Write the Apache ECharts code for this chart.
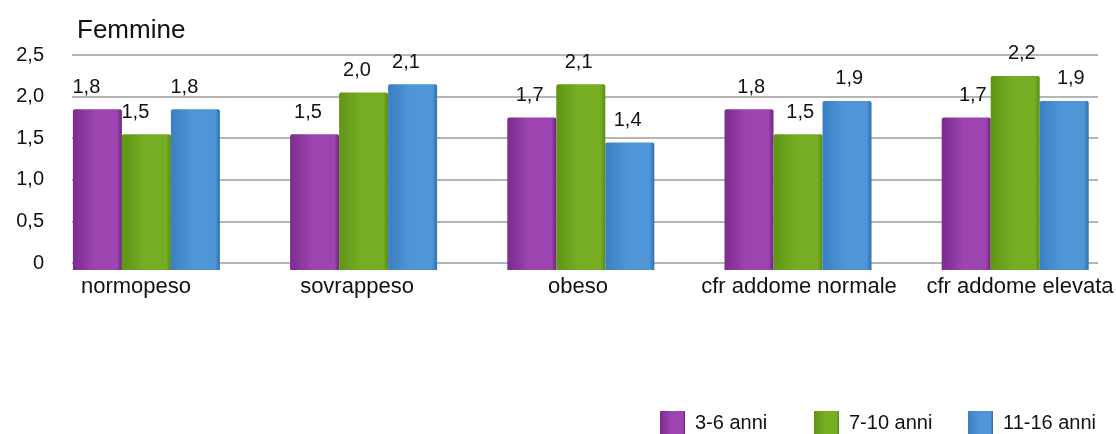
<!DOCTYPE html>
<html>
<head>
<meta charset="utf-8">
<style>
  html, body { margin: 0; padding: 0; background: #ffffff; }
  #chart { width: 1116px; height: 434px; }
</style>
<script src="https://cdn.jsdelivr.net/npm/echarts@6/dist/echarts.min.js"></script>
</head>
<body>
<div id="chart"></div>
<script>
// Categories and series values (Femmine)
const categories = ['normopeso', 'sovrappeso', 'obeso', 'cfr addome normale', 'cfr addome elevata'];
const seriesNames = ['3-6 anni', '7-10 anni', '11-16 anni'];
const anni3_6 = [1.8, 1.5, 1.7, 1.8, 1.7];
const anni7_10 = [1.5, 2.0, 2.1, 1.5, 2.2];
const anni11_16 = [1.8, 2.1, 1.4, 1.9, 1.9];

const FONT = '"Liberation Sans", Arial, sans-serif';
const fmt = v => (v === 0 ? '0' : v.toFixed(1).replace('.', ','));

function barGradient(edge, mid, side) {
  return new echarts.graphic.LinearGradient(0, 0, 1, 0, [
    { offset: 0, color: edge },
    { offset: 0.45, color: mid },
    { offset: 0.9, color: mid },
    { offset: 1, color: side }
  ]);
}

const styles = [
  { fill: barGradient('#7b2b8d', '#9c45b0', '#6f2380'), legend: '#82308f' },
  { fill: barGradient('#5f9416', '#76ad22', '#5a8c12'), legend: '#6aa01c' },
  { fill: barGradient('#3b7fc2', '#4f96d6', '#2f6fae'), legend: new echarts.graphic.LinearGradient(0, 0, 0, 1, [
      { offset: 0, color: '#2a62a8' }, { offset: 1, color: '#4d92d0' }]) }
];
const values = [anni3_6, anni7_10, anni11_16];
const legendLeft = [660, 814, 968];

// The bars sit in a perspective box: their base is drawn slightly below the
// zero gridline and their tops slightly above the value line.
const BAR_BASE = -0.132;
const BAR_MAX = 2.452;

// Value labels drift outward from the centre of the plot (perspective)
const labelShift = i => -11 + 4.4 * i;

const chart = echarts.init(document.getElementById('chart'), null, { renderer: 'canvas' });

chart.setOption({
  animation: false,
  backgroundColor: '#ffffff',
  title: {
    text: 'Femmine',
    left: 72,
    top: 13,
    textStyle: { fontFamily: FONT, fontSize: 26, fontWeight: 'normal', color: '#111111' }
  },
  legend: seriesNames.map((name, i) => ({
    data: [name],
    left: legendLeft[i],
    top: 411,
    padding: 0,
    itemWidth: 25,
    itemHeight: 24,
    itemGap: 0,
    icon: 'rect',
    textStyle: { fontFamily: FONT, fontSize: 20, color: '#111111', padding: [0, 0, 0, 5] }
  })),
  grid: [
    // gridlines and value axis
    { left: 72, right: 18, top: 55, bottom: 171, outerBoundsMode: 'none' },
    // bar area
    { left: 37.8, width: 1086, top: 55, bottom: 164, outerBoundsMode: 'none' },
    // category labels (spread a little wider than the bars)
    { left: 25.5, width: 1105, top: 55, bottom: 164, outerBoundsMode: 'none' }
  ],
  xAxis: [
    { gridIndex: 0, type: 'category', data: [''], show: false },
    { gridIndex: 1, type: 'category', data: categories, show: false },
    {
      gridIndex: 2, type: 'category', data: categories,
      axisLine: { show: false }, axisTick: { show: false }, splitLine: { show: false },
      axisLabel: { fontFamily: FONT, fontSize: 22, color: '#111111', margin: 6, interval: 0 }
    }
  ],
  yAxis: [
    {
      gridIndex: 0, type: 'value', min: 0, max: 2.5, interval: 0.5,
      axisLine: { show: false }, axisTick: { show: false },
      axisLabel: { fontFamily: FONT, fontSize: 20, color: '#111111', margin: 28, formatter: fmt },
      splitLine: { lineStyle: { color: '#9d9d9d', width: 1.6 } }
    },
    {
      gridIndex: 1, type: 'value', min: BAR_BASE, max: BAR_MAX, startValue: BAR_BASE,
      show: false, splitLine: { show: false }
    },
    {
      gridIndex: 2, type: 'value', min: 0, max: 2.5,
      show: false, splitLine: { show: false }
    }
  ],
  series: seriesNames.map((name, i) => ({
    name,
    type: 'bar',
    xAxisIndex: 1,
    yAxisIndex: 1,
    data: values[i].map((v, j) => ({ value: v, label: { offset: [labelShift(j), 0] } })),
    barWidth: 49,
    barGap: '0%',
    itemStyle: { color: styles[i].fill, borderRadius: [2, 2, 0, 0] },
    label: {
      show: true,
      position: 'top',
      distance: 12,
      fontFamily: FONT,
      fontSize: 20,
      color: '#111111',
      formatter: p => fmt(p.value)
    }
  })),
  color: styles.map(s => s.legend)
});
</script>
</body>
</html>
